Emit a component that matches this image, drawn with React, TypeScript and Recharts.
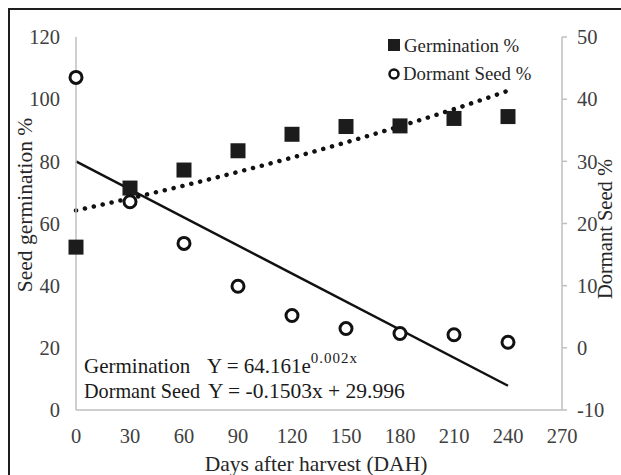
import { ComposedChart, XAxis, YAxis, Scatter, Line, Legend, Customized, Label } from "recharts";

// values
const days = [0, 30, 60, 90, 120, 150, 180, 210, 240];
const germination = [52.4, 71.4, 77.2, 83.4, 88.7, 91.2, 91.4, 93.8, 94.4];
const dormantSeed = [43.5, 23.5, 16.8, 9.9, 5.2, 3.1, 2.3, 2.1, 0.9];
const germinationTrend = [64.2, 68.1, 72.2, 76.6, 81.2, 86.1, 91.3, 96.8, 102.7];
const dormantTrendDays = [0, 240];
const dormantTrend = [30.0, -6.1];

const xTicks = [0, 30, 60, 90, 120, 150, 180, 210, 240, 270];
const leftTicks = [0, 20, 40, 60, 80, 100, 120];
const rightTicks = [-10, 0, 10, 20, 30, 40, 50];

const pointData = days.map((d, i) => ({ day: d, germ: germination[i], dorm: dormantSeed[i] }));
const germTrendData = days.map((d, i) => ({ day: d, trend: germinationTrend[i] }));
const dormTrendData = dormantTrendDays.map((d, i) => ({ day: d, trend: dormantTrend[i] }));

const FONT = "Liberation Serif, serif";
const AXIS = "#bfbfbf";
const tickStyle = { fontFamily: FONT, fontSize: 20.5, fill: "#404040" };

const SquareDot = (props: any) => {
    const { cx, cy } = props;
    return <rect x={cx - 7.5} y={cy - 7.5} width={15} height={15} fill="#1c1c1c" />;
};

const RingDot = (props: any) => {
    const { cx, cy } = props;
    return <circle cx={cx} cy={cy} r={6} fill="#fff" stroke="#111" strokeWidth={3} />;
};

const renderLegend = () => (
    <svg width={170} height={60} style={{ display: "block" }}>
        <rect x={8} y={9} width={12} height={12} fill="#1c1c1c" />
        <circle cx={14} cy={44} r={4.5} fill="#fff" stroke="#111" strokeWidth={2.5} />
        <text x={24} y={22} fontSize={18.8} fill="#262626">Germination %</text>
        <text x={23} y={50} fontSize={18.8} fill="#262626">Dormant Seed %</text>
    </svg>
);

const Equations = () => (
    <g fontSize={21} fill="#1a1a1a">
        <text x={74} y={363}>Germination</text>
        <text x={197} y={363}>
            Y = 64.161e<tspan dy={-10} fontSize={15} letterSpacing={1}>0.002x</tspan>
        </text>
        <text x={74} y={388} fontSize={20.2}>Dormant Seed</text>
        <text x={198} y={388} fontSize={21.5}>Y = -0.1503x + 29.996</text>
    </g>
);

export default function App() {
    return (
        <>
            <style>{`body{margin:0;overflow:hidden;background:#fff} svg text{font-family:"Liberation Serif",serif}`}</style>
            <div
                style={{
                    marginLeft: 8,
                    marginTop: 8,
                    width: 613,
                    height: 467,
                    borderLeft: "2px solid #1e1e1e",
                    borderTop: "2px solid #1e1e1e",
                    boxSizing: "border-box",
                }}
            >
                <ComposedChart width={611} height={465} margin={{ top: 27, right: 0, bottom: 0, left: 0 }}>
                    <XAxis
                        dataKey="day"
                        type="number"
                        domain={[0, 270]}
                        ticks={xTicks}
                        height={65}
                        axisLine={{ stroke: AXIS, strokeWidth: 1.5 }}
                        tickLine={false}
                        tickSize={0}
                        tickMargin={18}
                        tick={tickStyle}
                        interval={0}
                    >
                        <Label
                            content={() => (
                                <text x={306} y={461} textAnchor="middle" fontSize={21.5} fill="#262626">
                                    Days after harvest (DAH)
                                </text>
                            )}
                        />
                    </XAxis>
                    <YAxis
                        yAxisId="left"
                        orientation="left"
                        type="number"
                        domain={[0, 120]}
                        ticks={leftTicks}
                        width={66}
                        axisLine={{ stroke: AXIS, strokeWidth: 1.5 }}
                        tickLine={false}
                        tickSize={0}
                        tickMargin={16}
                        tick={tickStyle}
                        interval={0}
                    >
                        <Label
                            content={() => (
                                <text x={15} y={195} transform="rotate(-90 15 195)" textAnchor="middle" dominantBaseline="central" fontSize={21.5} fill="#262626">
                                    Seed germination %
                                </text>
                            )}
                        />
                    </YAxis>
                    <YAxis
                        yAxisId="right"
                        orientation="right"
                        type="number"
                        domain={[-10, 50]}
                        ticks={rightTicks}
                        width={59}
                        axisLine={{ stroke: AXIS, strokeWidth: 1.5 }}
                        tickLine={{ stroke: AXIS, strokeWidth: 1.5 }}
                        tickSize={5}
                        tickMargin={10}
                        tick={{ ...tickStyle, textAnchor: "start" }}
                        interval={0}
                    >
                        <Label
                            content={() => (
                                <text x={595} y={219} transform="rotate(-90 595 219)" textAnchor="middle" dominantBaseline="central" fontSize={20.5} fill="#262626">
                                    Dormant Seed %
                                </text>
                            )}
                        />
                    </YAxis>

                    <Line
                        yAxisId="left"
                        data={germTrendData}
                        dataKey="trend"
                        type="monotone"
                        stroke="#111"
                        strokeWidth={4.5}
                        strokeDasharray="0.1 9"
                        strokeLinecap="round"
                        dot={false}
                        activeDot={false}
                        legendType="none"
                        isAnimationActive={false}
                    />
                    <Line
                        yAxisId="right"
                        data={dormTrendData}
                        dataKey="trend"
                        type="linear"
                        stroke="#111"
                        strokeWidth={2.5}
                        dot={false}
                        activeDot={false}
                        legendType="none"
                        isAnimationActive={false}
                    />
                    <Scatter
                        yAxisId="left"
                        data={pointData}
                        dataKey="germ"
                        name="Germination %"
                        shape={SquareDot}
                        isAnimationActive={false}
                    />
                    <Scatter
                        yAxisId="right"
                        data={pointData}
                        dataKey="dorm"
                        name="Dormant Seed %"
                        shape={RingDot}
                        isAnimationActive={false}
                    />
                    <Customized component={Equations} />
                    <Legend
                        layout="vertical"
                        align="center"
                        verticalAlign="middle"
                        content={renderLegend}
                        wrapperStyle={{ top: 20, left: 370, width: 170, height: 60 }}
                    />
                </ComposedChart>
            </div>
        </>
    );
}
